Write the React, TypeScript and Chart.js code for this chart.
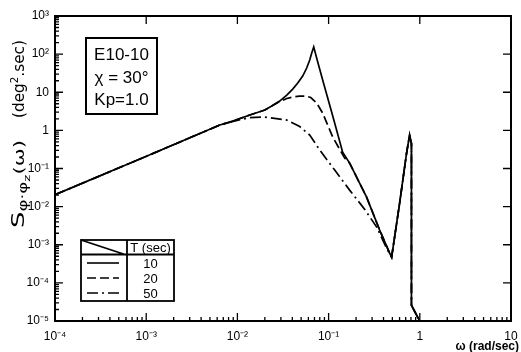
import { useEffect, useRef } from 'react';
import Chart from 'chart.js/auto';

const xTickValues = [1e-4, 1e-3, 1e-2, 1e-1, 1, 10];
const xTickLabels = ['10⁻⁴', '10⁻³', '10⁻²', '10⁻¹', '1', '10'];
const yTickValues = [1e-5, 1e-4, 1e-3, 1e-2, 1e-1, 1, 10, 100, 1000];
const yTickLabels = ['10⁻⁵', '10⁻⁴', '10⁻³', '10⁻²', '10⁻¹', '1', '10', '10²', '10³'];

// common low-frequency line (all T)
const baseOmega = [0.0001, 0.000853, 0.00641, 0.00826];
const baseS = [0.0205, 0.177, 1.38, 1.65];

// continuation shared by T = 10, 20
const midOmega = [0.01368, 0.02, 0.0238];
const midS = [2.52, 3.41, 4.35];

// T = 10 sec peak
const peak10Omega = [0.0291, 0.0348, 0.0404, 0.0459, 0.052, 0.0575, 0.0621, 0.0653, 0.0687, 0.076, 0.0861, 0.111, 0.1426, 0.17];
const peak10S = [5.87, 8.45, 12.1, 17.4, 26.6, 43.2, 70, 107, 153.5, 62, 20.9, 2.37, 0.269, 0.139];

// T = 20 sec peak
const peak20Omega = [0.0291, 0.0348, 0.0404, 0.0482, 0.0561, 0.0637, 0.0741, 0.0861, 0.111, 0.15, 0.17];
const peak20S = [5.7, 6.84, 7.48, 7.94, 7.94, 7.26, 5.21, 2.84, 0.667, 0.1875, 0.139];

// shared fall for T = 10, 20
const fallOmega = [0.261, 0.363, 0.467];
const fallS = [0.0177, 0.00242, 0.000603];

// T = 50 sec (splits earlier)
const t50Omega = [0.01368, 0.02, 0.0348, 0.0482, 0.0621, 0.08, 0.1167, 0.17, 0.248, 0.3365, 0.4436];
const t50S = [2.17, 2.23, 1.86, 1.26, 0.753, 0.304, 0.0908, 0.0271, 0.00859, 0.0029, 0.00072];

// shared valley, second peak and cut-off
const riseOmega = [0.491, 0.601, 0.716, 0.773, 0.81, 0.81, 0.995];
const riseS = [0.000473, 0.01236, 0.2535, 0.753, 0.45, 0.000026, 0.00001];

const seriesLabels = ['10', '20', '50'];

function pts(xs: number[], ys: number[]) {
  return xs.map((x, i) => ({ x, y: ys[i] }));
}

const FONT = '"Liberation Sans", Arial, sans-serif';
const TFONT = '"DejaVu Sans", sans-serif';

function drawGroup(ctx: any, start: number, end: number, pieces: [string, number, number][]) {
  let w = 0;
  for (const [t, size] of pieces) {
    ctx.font = `${size}px ${TFONT}`;
    w += ctx.measureText(t).width;
  }
  const k = (end - start) / w;
  ctx.save();
  ctx.translate(start, 0);
  ctx.scale(k, 1);
  let cx = 0;
  for (const [t, size, dy] of pieces) {
    ctx.font = `${size}px ${TFONT}`;
    ctx.fillText(t, cx, dy);
    cx += ctx.measureText(t).width;
  }
  ctx.restore();
}

const decorPlugin = {
  id: 'decor',
  afterDraw(chart: any) {
    const { ctx, chartArea: a, scales } = chart;
    const xs = scales.x;
    const ys = scales.y;
    ctx.save();
    ctx.strokeStyle = '#000';
    ctx.fillStyle = '#000';
    // frame
    ctx.lineWidth = 2;
    ctx.strokeRect(a.left, a.top, a.right - a.left, a.bottom - a.top);
    // ticks
    ctx.lineWidth = 1.3;
    ctx.beginPath();
    for (let d = -4; d <= 1; d++) {
      const x = xs.getPixelForValue(Math.pow(10, d));
      if (d > -4 && d < 1) {
        ctx.moveTo(x, a.bottom); ctx.lineTo(x, a.bottom - 8);
        ctx.moveTo(x, a.top); ctx.lineTo(x, a.top + 8);
      }
      if (d < 1) {
        for (let m = 2; m <= 9; m++) {
          const xm = xs.getPixelForValue(m * Math.pow(10, d));
          ctx.moveTo(xm, a.bottom); ctx.lineTo(xm, a.bottom - 4);
        }
      }
    }
    for (let d = -5; d <= 3; d++) {
      const y = ys.getPixelForValue(Math.pow(10, d));
      if (d > -5 && d < 3) {
        ctx.moveTo(a.left, y); ctx.lineTo(a.left + 8, y);
        ctx.moveTo(a.right, y); ctx.lineTo(a.right - 8, y);
      }
      if (d < 3) {
        for (let m = 2; m <= 9; m++) {
          const ym = ys.getPixelForValue(m * Math.pow(10, d));
          ctx.moveTo(a.left, ym); ctx.lineTo(a.left + 4, ym);
        }
      }
    }
    ctx.stroke();

    // annotation box
    ctx.lineWidth = 2;
    ctx.strokeRect(86, 38, 71, 76);
    ctx.font = `17px ${FONT}`;
    ctx.textAlign = 'center';
    ctx.textBaseline = 'middle';
    ctx.fillText('E10-10', 121.5, 55);
    ctx.fillText('χ = 30°', 121.5, 78);
    ctx.fillText('Kp=1.0', 121.5, 100);

    // legend table
    ctx.lineWidth = 1.8;
    ctx.strokeRect(81, 240, 93, 61);
    ctx.beginPath();
    ctx.moveTo(127, 240); ctx.lineTo(127, 301);
    ctx.moveTo(81, 254.5); ctx.lineTo(174, 254.5);
    ctx.moveTo(81, 240); ctx.lineTo(125, 254.5);
    ctx.stroke();
    ctx.font = `13px ${FONT}`;
    ctx.fillText('T (sec)', 150.5, 248);
    const dashes = [[], [9, 4], [11, 4, 2, 4]];
    const rowsY = [264, 279, 294];
    for (let i = 0; i < 3; i++) {
      ctx.fillText(seriesLabels[i], 150.5, rowsY[i]);
      ctx.beginPath();
      ctx.setLineDash(dashes[i]);
      ctx.lineWidth = 1.6;
      ctx.moveTo(87, rowsY[i] - 1); ctx.lineTo(119, rowsY[i] - 1);
      ctx.stroke();
    }
    ctx.setLineDash([]);

    // x title
    ctx.font = `bold 12px ${FONT}`;
    ctx.textAlign = 'right';
    ctx.textBaseline = 'alphabetic';
    ctx.fillText('ω (rad/sec)', 519, 350);

    // y title (rotated)
    ctx.translate(24, 0);
    ctx.rotate(-Math.PI / 2);
    ctx.textAlign = 'left';
    drawGroup(ctx, -228, -140, [['S', 17, 0], ['φ·φ', 12, 3], ['z', 9, 6], ['(ω)', 14, 0]]);
    drawGroup(ctx, -118, -40, [['(deg', 15, 0], ['2', 10, -6], ['.sec)', 15, 0]]);
    ctx.restore();
  },
};

export default function App() {
  const ref = useRef<HTMLCanvasElement | null>(null);
  useEffect(() => {
    if (!ref.current) return;
    const t10 = pts([...baseOmega, ...midOmega, ...peak10Omega, ...fallOmega, ...riseOmega], [...baseS, ...midS, ...peak10S, ...fallS, ...riseS]);
    const t20 = pts([...baseOmega, ...midOmega, ...peak20Omega, ...fallOmega, ...riseOmega], [...baseS, ...midS, ...peak20S, ...fallS, ...riseS]);
    const t50 = pts([...baseOmega, ...t50Omega, ...riseOmega], [...baseS, ...t50S, ...riseS]);
    const chart = new Chart(ref.current, {
      type: 'line',
      data: {
        datasets: [
          { label: seriesLabels[0], data: t10, borderColor: '#000', borderWidth: 1.7, pointRadius: 0, tension: 0 },
          { label: seriesLabels[1], data: t20, borderColor: '#000', borderWidth: 1.7, pointRadius: 0, tension: 0, borderDash: [9, 4] },
          { label: seriesLabels[2], data: t50, borderColor: '#000', borderWidth: 1.7, pointRadius: 0, tension: 0, borderDash: [11, 4, 2, 4] },
        ],
      },
      options: {
        animation: false,
        responsive: false,
        maintainAspectRatio: false,
        devicePixelRatio: 1,
        layout: { padding: { top: 16, right: 10, left: 0, bottom: 0 } },
        plugins: { legend: { display: false }, tooltip: { enabled: false } },
        scales: {
          x: {
            type: 'logarithmic',
            min: 1e-4,
            max: 10,
            grid: { display: false, drawTicks: false },
            border: { display: false },
            afterBuildTicks: (s: any) => { s.ticks = xTickValues.map((v) => ({ value: v })); },
            afterFit: (s: any) => { s.height = 31; s.paddingLeft = 0; s.paddingRight = 0; },
            ticks: {
              color: '#000',
              padding: 8,
              maxRotation: 0,
              autoSkip: false,
              font: { family: FONT, size: 12 },
              callback: (v: any) => { const i = xTickValues.findIndex((t) => Math.abs(Math.log10(t) - Math.log10(v)) < 1e-6); return i >= 0 ? xTickLabels[i] : ''; },
            },
          },
          y: {
            type: 'logarithmic',
            min: 1e-5,
            max: 1000,
            grid: { display: false, drawTicks: false },
            border: { display: false },
            afterBuildTicks: (s: any) => { s.ticks = yTickValues.map((v) => ({ value: v })); },
            afterFit: (s: any) => { s.width = 55; s.paddingTop = 0; s.paddingBottom = 0; },
            ticks: {
              color: '#000',
              padding: 6,
              autoSkip: false,
              font: { family: FONT, size: 12 },
              callback: (v: any) => { const i = yTickValues.findIndex((t) => Math.abs(Math.log10(t) - Math.log10(v)) < 1e-6); return i >= 0 ? yTickLabels[i] : ''; },
            },
          },
        },
      },
      plugins: [decorPlugin],
    });
    return () => chart.destroy();
  }, []);
  return (
    <div style={{ position: 'fixed', left: 0, top: 0, width: 521, height: 352, background: '#fff' }}>
      <canvas ref={ref} width={521} height={352} style={{ display: 'block', width: 521, height: 352 }} />
    </div>
  );
}
